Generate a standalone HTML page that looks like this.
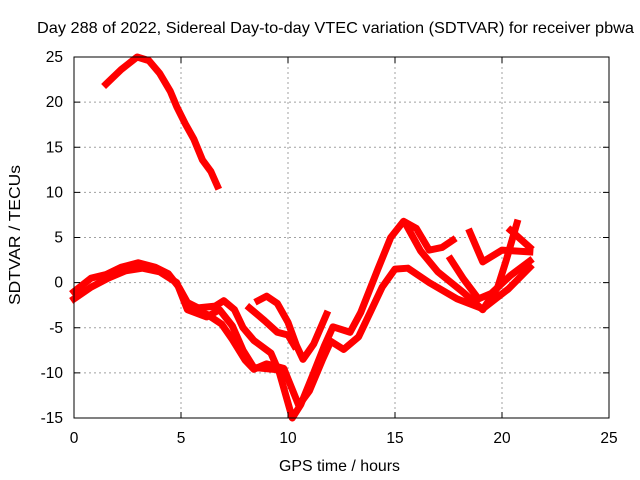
<!DOCTYPE html>
<html><head><meta charset="utf-8"><style>
html,body{margin:0;padding:0;background:#fff;}
svg{display:block;font-family:"Liberation Sans",sans-serif;}
</style></head><body>
<svg id="chart" width="640" height="480" viewBox="0 0 640 480" xmlns="http://www.w3.org/2000/svg">
<rect width="640" height="480" fill="#fff"/>
<text x="37" y="33" font-size="16" textLength="597" lengthAdjust="spacingAndGlyphs" fill="#000">Day 288 of 2022, Sidereal Day-to-day VTEC variation (SDTVAR) for receiver pbwa</text>
<g id="grid"></g>
<g id="series"></g>
<rect x="74" y="57" width="535" height="361" fill="none" stroke="#000" stroke-width="1"/>
<g id="ticks"></g>
<text x="279" y="471" font-size="16" textLength="121" lengthAdjust="spacingAndGlyphs">GPS time / hours</text>
<text transform="translate(20,305) rotate(-90)" font-size="16" textLength="140" lengthAdjust="spacingAndGlyphs">SDTVAR / TECUs</text>
</svg>
<script>
const xTicks=[0,5,10,15,20,25];
const yTicks=[-15,-10,-5,0,5,10,15,20,25];
const seriesArc=[[1.5,22],[2.2,23.6],[2.95,25],[3.5,24.6],[4.0,23.2],[4.5,21.2],[4.8,19.5],[5.2,17.6],[5.6,15.9],[6.0,13.6],[6.4,12.3],[6.7,10.7]];
const seriesA=[[0,-1],[0.8,0.5],[1.5,0.9],[2.2,1.7],[3,2.2],[3.8,1.7],[4.4,1.0],[4.9,-0.5],[5.3,-2.2],[5.8,-2.8],[6.6,-2.6],[7.0,-2],[7.5,-3],[7.9,-5],[8.4,-6.4],[9.2,-7.8],[9.6,-10],[10.2,-15],[10.6,-13.5],[11.2,-10],[11.7,-7],[12.1,-4.9],[12.9,-5.5],[13.4,-3.3],[14.2,1.5],[14.8,5],[15.4,6.8],[16.0,6],[16.6,3.6],[17.2,3.9],[17.7,4.7]];
const seriesB=[[0,-1.8],[0.8,-0.5],[1.6,0.5],[2.4,1.3],[3.2,1.6],[4.0,1.2],[4.8,0],[5.3,-3],[6.2,-3.8],[6.8,-3],[7.4,-4.8],[7.9,-7.5],[8.4,-9.4],[9.3,-9.6]];
const seriesC=[[5.4,-3],[6.2,-3.5],[6.9,-4.6],[7.4,-6.3],[8.0,-8.6],[8.4,-9.6],[9.0,-9.0],[9.8,-9.5],[10.5,-13.6],[11.0,-12],[11.6,-8.6],[12.0,-6.5],[12.6,-7.4],[13.3,-6.0],[13.9,-3],[14.4,-0.5],[15.0,1.5],[15.6,1.6],[16.6,0],[17.9,-1.8],[19.1,-2.9],[20.3,-0.7],[21.3,1.7]];
const seriesD=[[8.2,-2.8],[8.9,-4.2],[9.5,-5.5],[10.0,-5.8],[10.3,-7]];
const seriesE=[[8.6,-2],[9.0,-1.5],[9.5,-2.3],[10.0,-4.4],[10.4,-7],[10.7,-8.5],[11.2,-6.8],[11.8,-3.5]];
const seriesF=[[15.5,6.5],[16.2,3.5],[17.0,1.2],[18.2,-1.1],[19.1,-3],[19.8,-0.5],[20.2,2.5],[20.7,6.6]];
const seriesG=[[17.6,2.6],[18.2,0.4],[18.9,-1.8],[19.5,-1.2],[20.4,0.8],[21.3,2.4]];
const seriesH=[[18.5,5.6],[19.1,2.3],[20.0,3.6],[21.3,3.4]];
const seriesI=[[20.4,5.8],[21.3,3.9]];
const allSeries=[seriesArc,seriesA,seriesB,seriesC,seriesD,seriesE,seriesF,seriesG,seriesH,seriesI];
const X0=74,X1=609,Y0=418,Y1=57;
function sx(v){return X0+(v-0)/(25-0)*(X1-X0);}
function sy(v){return Y0-(v+15)/(40)*(Y0-Y1);}
const NS="http://www.w3.org/2000/svg";
const grid=document.getElementById('grid'),ticks=document.getElementById('ticks'),sg=document.getElementById('series');
function mk(t,a){const e=document.createElementNS(NS,t);for(const k in a)e.setAttribute(k,a[k]);return e;}
xTicks.forEach(v=>{
  const x=sx(v);
  if(v>0&&v<25){const g=mk('line',{x1:x,x2:x,y1:Y1,y2:Y0,stroke:'#a0a0a0','stroke-dasharray':'2,3'});
  
  grid.appendChild(g);}
  const t1=mk('line',{x1:x,x2:x,y1:Y0,y2:Y0-6,stroke:'#000'});
  
  ticks.appendChild(t1);
  const t2=mk('line',{x1:x,x2:x,y1:Y1,y2:Y1+6,stroke:'#000'});
  
  ticks.appendChild(t2);
  const l=mk('text',{x:x,y:443,'font-size':15.5,'text-anchor':'middle'});l.textContent=v;
  
  ticks.appendChild(l);
});
yTicks.forEach(v=>{
  const y=sy(v);
  if(v>-15&&v<25){const g=mk('line',{x1:X0,x2:X1,y1:y,y2:y,stroke:'#a0a0a0','stroke-dasharray':'2,3'});
  
  grid.appendChild(g);}
  const t1=mk('line',{x1:X0,x2:X0+6,y1:y,y2:y,stroke:'#000'});
  
  ticks.appendChild(t1);
  const t2=mk('line',{x1:X1,x2:X1-6,y1:y,y2:y,stroke:'#000'});
  
  ticks.appendChild(t2);
  const l=mk('text',{x:63,y:y+5,'font-size':15.5,'text-anchor':'end'});l.textContent=v;
  
  ticks.appendChild(l);
});
allSeries.forEach(s=>{
  const p=mk('polyline',{points:s.map(d=>sx(d[0])+','+sy(d[1])).join(' '),fill:'none',stroke:'#ff0000','stroke-width':7,'stroke-linejoin':'round','stroke-linecap':'square'});
  
  
  sg.appendChild(p);
});
</script>
</body></html>
